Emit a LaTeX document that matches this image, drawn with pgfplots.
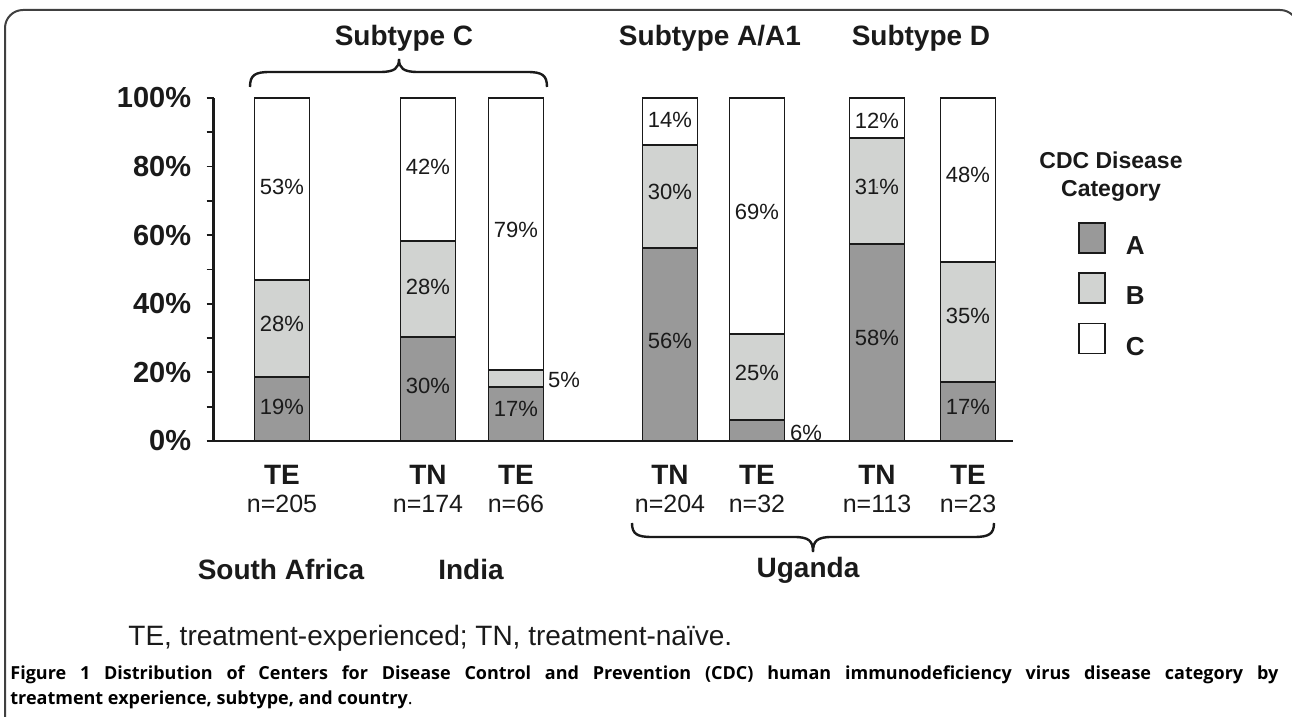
\documentclass[border=0pt]{standalone}
\usepackage{pgfplots}
\pgfplotsset{compat=1.18}
\usepackage{pgfplotstable}
\usepackage{fontspec}
\setmainfont{Liberation Sans}
\newfontfamily\capfont{Open Sans}
\definecolor{catA}{HTML}{999999}
\definecolor{catB}{HTML}{D1D3D1}
\definecolor{ink}{HTML}{1A1A1A}

% x = bar position (in pixel units of the original), A/B/C = CDC category share (%)
\pgfplotstableread{
x A B C
282 18.7 28.2 53.1
428 30.3 28.0 41.7
516 15.7 5.0 79.3
670 56.3 30.0 13.7
757 6.1 25.1 68.8
877 57.4 30.9 11.7
968 17.2 35.0 47.8
}\bars

% printed percentage labels and their positions
\pgfplotstableread{
x y lab
282 10.0 19
282 34.0 28
282 74.0 53
428 16.0 30
428 45.0 28
428 80.0 42
516 9.3 17
564 17.8 5
516 61.5 79
670 29.2 56
670 72.6 30
670 93.6 14
806 2.3 6
757 19.8 25
757 66.8 69
877 30.0 58
877 74.0 31
877 93.3 12
968 10.0 17
968 36.4 35
968 77.6 48
}\labels

\newcommand\tl[2]{{\fontsize{14}{14}\selectfont\bfseries #1}\\n=#2}

\pgfplotsset{
  common/.style={
    scale only axis, width=399.75pt, height=171.5pt,
    at={(106.75pt,138pt)}, anchor=south west,
    xmin=213.5, xmax=1013, ymin=0, ymax=100,
    enlargelimits=false, clip=false,
  },
  leg/.style={legend image code/.code={\draw[line width=0.9pt, draw=ink] (0pt,-3pt) rectangle (13pt,12pt);}},
}

\begin{document}
\begin{tikzpicture}
\useasboundingbox (0,0) rectangle (646pt,358.5pt);
\begin{axis}[common,
  ybar stacked, bar width=55,
  axis x line*=bottom, axis y line*=left,
  axis line style={line width=1.4pt, draw=ink, -},
  xtick={282,428,516,670,757,877,968},
  xticklabels={{\tl{TE}{205}},{\tl{TN}{174}},{\tl{TE}{66}},{\tl{TN}{204}},{\tl{TE}{32}},{\tl{TN}{113}},{\tl{TE}{23}}},
  x tick label style={align=center, font=\fontsize{12.5}{14}\selectfont, text=ink, inner sep=0pt, anchor=north, yshift=-8.5pt},
  xtick style={draw=none},
  ytick={0,20,...,100}, minor ytick={10,30,...,90},
  yticklabels={0\%,20\%,40\%,60\%,80\%,100\%},
  tick align=outside, major tick length=3.5pt, minor tick length=3.5pt,
  ytick style={line width=0.9pt, draw=ink},
  y tick label style={font=\fontsize{14.5}{14}\selectfont\bfseries, text=ink, inner sep=0pt, anchor=east, xshift=-7.5pt},
  legend style={draw=none, fill=none, at={(1.0813,0.6385)}, anchor=north west, inner sep=0pt, outer sep=0pt, row sep=7.5pt, column sep=10pt, font=\fontsize{13}{13}\selectfont\bfseries, text=ink, nodes={inner sep=0pt}},
  legend cell align=left,
]
\addplot[fill=catA, draw=ink, line width=0.9pt, leg] table[x=x,y=A]{\bars};
\addlegendentry{A}
\addplot[fill=catB, draw=ink, line width=0.9pt, leg] table[x=x,y=B]{\bars};
\addlegendentry{B}
\addplot[fill=white, draw=ink, line width=0.9pt, leg] table[x=x,y=C]{\bars};
\addlegendentry{C}
\end{axis}

\begin{axis}[common, hide axis,
  /pgf/number format/assume math mode=true,
  nodes near coords={\pgfmathprintnumber{\pgfplotspointmeta}\%},
  point meta=explicit,
  nodes near coords align=center,
  every node near coord/.append style={font=\fontsize{11}{11}\selectfont, text=ink, inner sep=0pt},
]
\addplot[only marks, mark=*, mark size=0.01pt, mark options={draw=none, fill=none}] table[x=x,y=y,meta=lab]{\labels};
\end{axis}

\begin{scope}[shift={(0pt,358.5pt)}, x=0.5pt, y=-0.5pt]
  \draw[line width=1pt, draw=black!75, rounded corners=9pt] (5,740) -- (5,10) -- (1298,10) -- (1298,60);
  \begin{scope}[every node/.style={font=\fontsize{14}{14}\selectfont\bfseries, text=ink, inner sep=0pt, anchor=base}]
    \node at (404,46) {Subtype C};
    \node at (710,46) {Subtype A/A1};
    \node at (921,46) {Subtype D};
    \node at (281,580) {South Africa};
    \node at (471,580) {India};
    \node at (808,578) {Uganda};
  \end{scope}
  \draw[line width=1.2pt, draw=ink] (250,87) .. controls (250,75) and (255,72) .. (270,72) -- (380,72) .. controls (395,72) and (399,68) .. (399,59) .. controls (399,68) and (403,72) .. (418,72) -- (527,72) .. controls (542,72) and (547,75) .. (547,87);
  \draw[line width=1.2pt, draw=ink] (632,523) .. controls (632,534) and (637,537) .. (652,537) -- (794,537) .. controls (809,537) and (813,541) .. (813,552) .. controls (813,541) and (817,537) .. (832,537) -- (974,537) .. controls (989,537) and (994,534) .. (994,523);
  \node[font=\fontsize{11.5}{14}\selectfont\bfseries, text=ink, align=center, inner sep=0pt] at (1111,177) {CDC Disease\\Category};
  \node[font=\fontsize{14}{14}\selectfont, text=ink, inner sep=0pt, anchor=base west] at (128,646) {TE, treatment-experienced; TN, treatment-na\"ive.};
  \node[font=\capfont\fontsize{9}{12}\selectfont\bfseries, text=black, inner sep=0pt, anchor=base west] at (10,680) {\makebox[634pt][s]{Figure 1 Distribution of Centers for Disease Control and Prevention (CDC) human immunodeficiency virus disease category by}};
  \node[font=\capfont\fontsize{9}{12}\selectfont\bfseries, text=black, inner sep=0pt, anchor=base west] at (10,705) {treatment experience, subtype, and country{\mdseries.}};
\end{scope}
\end{tikzpicture}
\end{document}
